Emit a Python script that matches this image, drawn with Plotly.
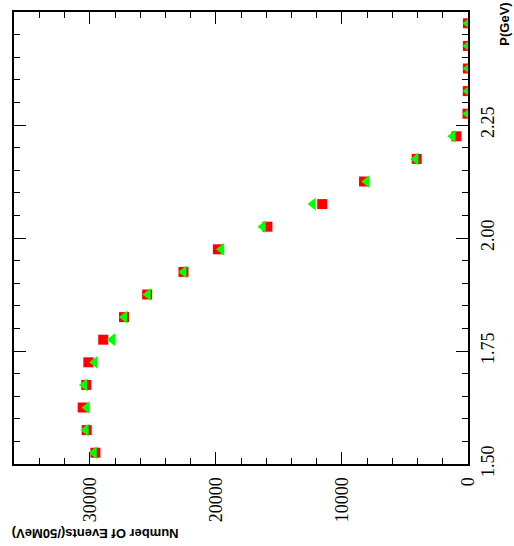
import plotly.graph_objects as go

# Momentum bin centres (50 MeV bins)
p_gev = [1.525, 1.575, 1.625, 1.675, 1.725, 1.775, 1.825, 1.875, 1.925, 1.975,
         2.025, 2.075, 2.125, 2.175, 2.225, 2.275, 2.325, 2.375, 2.425, 2.475]

# Event counts per bin
counts_red = [29570, 30260, 30580, 30300, 30130, 28950, 27300, 25460, 22580, 19850,
              15920, 11570, 8250, 4070, 920, 40, 20, 10, 10, 5]
counts_green = [29680, 30330, 30240, 30440, 29630, 28240, 27270, 25400, 22560, 19570,
                16270, 12300, 8040, 4150, 1210, 30, 15, 10, 5, 5]

count_ticks = [0, 10000, 20000, 30000]
p_ticks = [1.50, 1.75, 2.00, 2.25, 2.50]

fig = go.Figure()
fig.add_trace(go.Scatter(
    x=counts_red, y=p_gev, mode="markers", name="sample A",
    marker=dict(symbol="square", size=10, color="#ff0000", line=dict(width=0)),
))
fig.add_trace(go.Scatter(
    x=counts_green, y=p_gev, mode="markers", name="sample B",
    marker=dict(symbol="triangle-left", size=11, color="#00ff00", line=dict(width=0)),
))

tick_font = dict(family="Liberation Serif", size=18, color="black")

fig.update_layout(
    width=514, height=546,
    margin=dict(l=14, r=46, t=10, b=82),
    paper_bgcolor="white", plot_bgcolor="white",
    showlegend=False,
    xaxis=dict(
        range=[36030, 0], side="bottom",
        tickmode="array", tickvals=count_ticks,
        ticktext=[str(v) for v in count_ticks],
        tickangle=-90, tickfont=tick_font,
        ticks="inside", ticklen=12, tickwidth=1.2, tickcolor="black",
        minor=dict(dtick=2000, ticks="inside", ticklen=6, tickwidth=1.2, tickcolor="black"),
        showline=True, linewidth=2, linecolor="black", mirror="ticks",
        showgrid=False, zeroline=False, ticklabelstandoff=4,
    ),
    yaxis=dict(
        range=[1.5, 2.5], side="right",
        tickmode="array", tickvals=p_ticks,
        ticktext=["%.2f" % v for v in p_ticks],
        tickangle=-90, tickfont=tick_font,
        ticks="inside", ticklen=12, tickwidth=1.2, tickcolor="black",
        minor=dict(dtick=0.05, tick0=1.5, ticks="inside", ticklen=6, tickwidth=1.2, tickcolor="black"),
        showline=True, linewidth=2, linecolor="black", mirror="ticks",
        showgrid=False, zeroline=False, ticklabelstandoff=2,
    ),
    annotations=[
        dict(text="<b>Number Of Events(/50MeV)</b>", xref="paper", yref="paper",
             x=0.178, y=-0.155, xanchor="center", yanchor="middle",
             textangle=180, showarrow=False,
             font=dict(family="Liberation Sans", size=13, color="black")),
        dict(text="<b>P(GeV)</b>", xref="paper", yref="paper",
             x=1.0815, y=0.92, xanchor="center", yanchor="bottom",
             textangle=-90, showarrow=False,
             font=dict(family="Liberation Sans", size=13, color="black")),
    ],
)

fig.write_html("out.html")
